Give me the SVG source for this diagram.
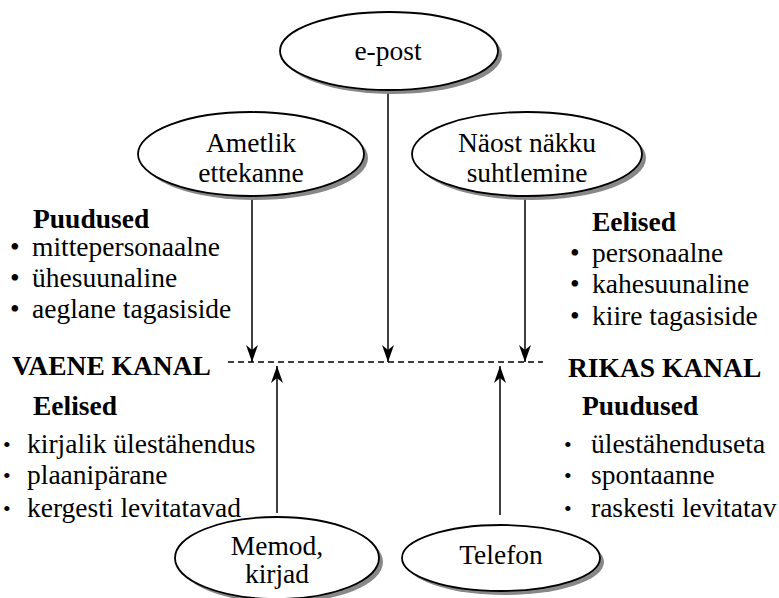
<svg xmlns="http://www.w3.org/2000/svg" width="779" height="598" viewBox="0 0 779 598" font-family="'Liberation Serif', 'Times New Roman', Times, serif">
<style>
text{font-family:'Liberation Serif','Times New Roman',Times,serif;font-size:27.5px;fill:#000}
.c{text-anchor:middle}
.b{font-weight:bold}
.sh{fill:#888;stroke:none}
.el{fill:#fff;stroke:#000;stroke-width:1.8}
.ln{stroke:#000;stroke-width:1.5;fill:none}
.bs{font-size:22px}
</style>
<defs>
<marker id="ah" markerWidth="18" markerHeight="13" refX="17" refY="6.5" orient="auto" markerUnits="userSpaceOnUse" viewBox="0 0 18 13">
<path d="M17,6.5 L0,0.5 L5,6.5 L0,12.5 Z" fill="#000"/>
</marker>
</defs>
<rect width="779" height="598" fill="#fff"/>
<g id="connectors">
<line class="ln" x1="228" y1="362" x2="543" y2="362" stroke-dasharray="6 4" stroke-width="2"/>
<path class="ln" d="M252,197 L252,362" marker-end="url(#ah)"/>
<path class="ln" d="M388,90 L388,362" marker-end="url(#ah)"/>
<path class="ln" d="M525,197 L525,362" marker-end="url(#ah)"/>
<path class="ln" d="M277,513 L277,366" marker-end="url(#ah)"/>
<path class="ln" d="M500,515 L500,366" marker-end="url(#ah)"/>
</g>
<g id="epost">
<ellipse class="sh" cx="393" cy="55" rx="109" ry="39"/>
<ellipse class="el" cx="389" cy="51" rx="109" ry="39"/>
<text class="c" x="388" y="60">e-post</text>
</g>
<g id="ametlik">
<ellipse class="sh" cx="255" cy="158" rx="113" ry="42"/>
<ellipse class="el" cx="251" cy="154" rx="113" ry="42"/>
<text class="c" x="251" y="152">Ametlik</text>
<text class="c" x="251" y="182">ettekanne</text>
</g>
<g id="naost">
<ellipse class="sh" cx="531" cy="158" rx="115" ry="42"/>
<ellipse class="el" cx="527" cy="154" rx="115" ry="42"/>
<text class="c" x="527" y="152">Näost näkku</text>
<text class="c" x="527" y="182">suhtlemine</text>
</g>
<g id="memod">
<ellipse class="sh" cx="281" cy="562" rx="102" ry="41"/>
<ellipse class="el" cx="277" cy="558" rx="102" ry="41"/>
<text class="c" x="277" y="555">Memod,</text>
<text class="c" x="277" y="583">kirjad</text>
</g>
<g id="telefon">
<ellipse class="sh" cx="505" cy="562" rx="99" ry="33"/>
<ellipse class="el" cx="501" cy="558" rx="99" ry="33"/>
<text class="c" x="501" y="564">Telefon</text>
</g>
<g id="vaene-puudused">
<text class="b" x="33" y="228">Puudused</text>
<text x="10" y="256">•</text><text x="32" y="256">mittepersonaalne</text>
<text x="10" y="287">•</text><text x="32" y="287">ühesuunaline</text>
<text x="10" y="318">•</text><text x="32" y="318">aeglane tagasiside</text>
</g>
<g id="vaene-kanal">
<text class="b" x="12" y="375">VAENE KANAL</text>
</g>
<g id="vaene-eelised">
<text class="b" x="33" y="415">Eelised</text>
<text class="bs" x="3" y="452">•</text><text x="27" y="453">kirjalik ülestähendus</text>
<text class="bs" x="3" y="483">•</text><text x="27" y="484">plaanipärane</text>
<text class="bs" x="3" y="516">•</text><text x="27" y="517">kergesti levitatavad</text>
</g>
<g id="rikas-eelised">
<text class="b" x="592" y="231">Eelised</text>
<text x="570" y="262">•</text><text x="592" y="262">personaalne</text>
<text x="570" y="293">•</text><text x="592" y="293">kahesuunaline</text>
<text x="570" y="325">•</text><text x="592" y="325">kiire tagasiside</text>
</g>
<g id="rikas-kanal">
<text class="b" x="568" y="377">RIKAS KANAL</text>
</g>
<g id="rikas-puudused">
<text class="b" x="582" y="415">Puudused</text>
<text class="bs" x="564" y="452">•</text><text x="591" y="453">ülestähenduseta</text>
<text class="bs" x="564" y="483">•</text><text x="591" y="484">spontaanne</text>
<text class="bs" x="564" y="516">•</text><text x="591" y="517">raskesti levitatav</text>
</g>
</svg>
